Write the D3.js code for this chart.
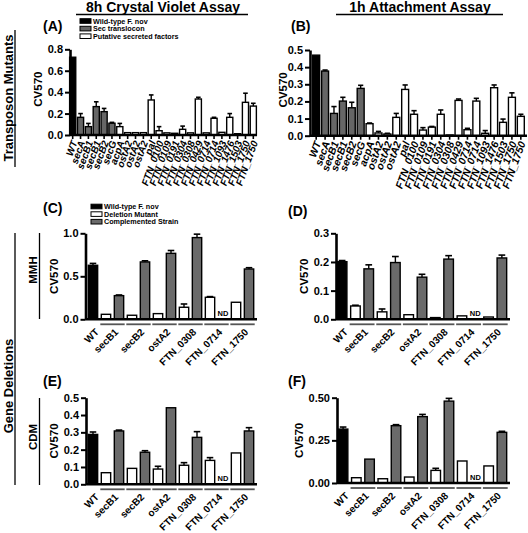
<!DOCTYPE html>
<html><head><meta charset="utf-8">
<script src="https://cdn.jsdelivr.net/npm/d3@7"></script>
<style>
body{margin:0;background:#fff;}
svg text{font-family:Arial,"Liberation Sans",Helvetica,sans-serif;font-weight:bold;fill:#000;}
</style></head><body>
<svg id="c" width="528" height="533"></svg>
<script>
// ---------- DATA ----------
const mutantLabels = ["WT","secA","secB1","secB1","secB2","secG","acpA","ostA2","ostA2","ostA2","pal",
  "FTN_0100","FTN_0109","FTN_0191","FTN_0304","FTN_0308","FTN_0429","FTN_0714","FTN_0714",
  "FTN_1093","FTN_1476","FTN_1503","FTN_1750","FTN_1750"];
const mutantClass = ["wt","sec","sec","sec","sec","sec","sf","sf","sf","sf","sf","sf","sf","sf","sf","sf","sf","sf","sf","sf","sf","sf","sf","sf"];
const mutantLegend = ["Wild-type F. nov","Sec translocon","Putative secreted factors"];

// (A) 8h crystal violet, transposon mutants
const crystalMean = [0.726,0.165,0.078,0.265,0.218,0.110,0.078,0.022,0.022,0.022,0.327,
  0.040,0.020,0.016,0.053,0.020,0.336,0.020,0.156,0.025,0.165,0.012,0.305,0.270];
const crystalSem  = [0,0.035,0.030,0.045,0.030,0.008,0.030,0,0,0,0.047,
  0.038,0,0,0.030,0,0.016,0,0.009,0,0.035,0,0.085,0.026];
// (B) 1h attachment, transposon mutants
const attachMean = [0.470,0.377,0.130,0.202,0.163,0.276,0.070,0.016,0.010,0.107,0.270,
  0.125,0.033,0.050,0.125,0.004,0.206,0.035,0.202,0.014,0.280,0.078,0.224,0.113];
const attachSem  = [0,0.006,0.040,0.022,0.032,0.018,0.004,0.009,0.004,0.023,0.026,
  0.021,0.014,0.004,0.025,0,0.008,0.008,0.016,0.016,0.016,0.019,0.026,0.012];

const deletionGroups = ["WT","secB1","secB2","ostA2","FTN_0308","FTN_0714","FTN_1750"];
const deletionLegend = ["Wild-type F. nov","Deletion Mutant","Complemented Strain"];

// (C) MMH crystal violet
const cWT = [0.628], cWTSem = [0.022];
const cDel = [0.058,0.047,0.066,0.140,0.256,0.198], cDelSem = [0,0,0,0.038,0.008,0];
const cComp = [0.275,0.667,0.767,0.950,null,0.585], cCompSem = [0.008,0.013,0.033,0.040,null,0.015];
// (D) MMH attachment
const dWT = [0.201], dWTSem = [0.004];
const dDel = [0.0465,0.026,0.016,0.006,0.012,0.008], dDelSem = [0.0025,0.010,0,0,0,0];
const dComp = [0.176,0.198,0.147,0.210,null,0.214], dCompSem = [0.014,0.021,0.010,0.012,null,0.010];
// (E) CDM crystal violet
const eWT = [0.288], eWTSem = [0.014];
const eDel = [0.067,0.092,0.088,0.110,0.138,0.181], eDelSem = [0,0,0.016,0.015,0.016,0];
const eComp = [0.308,0.185,0.442,0.271,null,0.308], eCompSem = [0.005,0.009,0,0.033,null,0.019];
// (F) CDM attachment
const fWT = [0.316], fWTSem = [0.012];
const fDel = [0.031,0.025,0.035,0.074,0.129,0.100], fDelSem = [0,0,0,0.012,0,0];
const fComp = [0.140,0.336,0.389,0.480,null,0.297], fCompSem = [0,0.006,0.013,0.016,null,0.006];

// ---------- DRAWING ----------
const svg = d3.select("#c");
const mutantFill = {wt:"#000", sec:"#666", sf:"#fff"};
const delFill = {wt:"#000", del:"#fff", comp:"#6a6a6a"};

function drawYAxis(g, y, ax, ticks, fmt) {
  const a = d3.axisLeft(y).tickValues(ticks).tickFormat(d3.format(fmt)).tickSize(5).tickSizeOuter(0).tickPadding(2);
  const ga = g.append("g").attr("transform", `translate(${ax},0)`).call(a);
  ga.select(".domain").attr("stroke", "#000").attr("stroke-width", 2.6);
  ga.selectAll(".tick line").attr("stroke", "#000").attr("stroke-width", 2);
  ga.selectAll(".tick text").style("font-size", "11px").style("font-weight", "bold").attr("fill", "#000")
    .style("font-family", "Arial, 'Liberation Sans', sans-serif");
}

function drawErr(g, data, x, y, capFrac) {
  const d2 = data.filter(d => d.v != null && d.e > 0);
  g.selectAll(null).data(d2).join("line")
    .attr("x1", d => x(d.key) + x.bandwidth()/2).attr("x2", d => x(d.key) + x.bandwidth()/2)
    .attr("y1", d => y(d.v)).attr("y2", d => y(d.v + d.e))
    .attr("stroke", "#000").attr("stroke-width", 1.4);
  g.selectAll(null).data(d2).join("line")
    .attr("x1", d => x(d.key) + x.bandwidth()*(0.5 - capFrac/2)).attr("x2", d => x(d.key) + x.bandwidth()*(0.5 + capFrac/2))
    .attr("y1", d => y(d.v + d.e)).attr("y2", d => y(d.v + d.e))
    .attr("stroke", "#000").attr("stroke-width", 1.6);
}

function drawBars(g, data, x, y) {
  g.selectAll(null).data(data.filter(d => d.v != null)).join("rect")
    .attr("x", d => x(d.key)).attr("width", x.bandwidth())
    .attr("y", d => y(d.v)).attr("height", d => Math.max(0, y(0) - y(d.v)))
    .attr("fill", d => d.fill).attr("stroke", "#000").attr("stroke-width", 1.4);
}

function cvLabel(g, xPos, yPos) {
  g.append("text").attr("transform", `translate(${xPos},${yPos}) rotate(-90)`)
    .attr("text-anchor", "middle").style("font-size", "11.5px").text("CV570");
}

function mutantPanel(cfg) {
  const g = svg.append("g");
  const keys = d3.range(mutantLabels.length);
  const x = d3.scaleBand().domain(keys).range(cfg.xr).paddingInner(0.22).paddingOuter(0.08);
  const y = d3.scaleLinear().domain(cfg.yd).range(cfg.yr);
  const data = keys.map(i => ({key: i, v: cfg.mean[i], e: cfg.sem[i], fill: mutantFill[mutantClass[i]]}));
  drawBars(g, data, x, y);
  drawErr(g, data, x, y, 0.75);
  const xa = d3.axisBottom(x).tickSize(4).tickSizeOuter(0).tickFormat("");
  const gx = g.append("g").attr("transform", `translate(0,${y(0)})`).call(xa);
  gx.select(".domain").remove();
  gx.selectAll(".tick line").attr("stroke", "#000").attr("stroke-width", 1.6);
  g.append("line").attr("x1", cfg.ax).attr("x2", cfg.xend).attr("y1", y(0)).attr("y2", y(0))
    .attr("stroke", "#000").attr("stroke-width", 2.6);
  drawYAxis(g, y, cfg.ax, cfg.ticks, cfg.fmt);
  g.selectAll(null).data(keys).join("text")
    .attr("transform", i => `translate(${x(i) + x.bandwidth()/2 + 1.5},${y(0) + 6}) rotate(-70)`)
    .attr("text-anchor", "end").attr("dy", "0.35em")
    .style("font-size", cfg.fs).style("font-style", "italic")
    .text(i => mutantLabels[i]);
  cvLabel(g, cfg.cvx, (cfg.yr[0] + cfg.yr[1]) / 2 - 3);
}

function deletionPanel(cfg) {
  const g = svg.append("g");
  const data = [{key: "WT", v: cfg.wt[0], e: cfg.wtSem[0], fill: delFill.wt}];
  deletionGroups.slice(1).forEach((gn, i) => {
    data.push({key: gn + "|del", v: cfg.del[i], e: cfg.delSem[i], fill: delFill.del});
    data.push({key: gn + "|comp", v: cfg.comp[i], e: cfg.compSem[i], fill: delFill.comp});
  });
  const x = d3.scaleBand().domain(data.map(d => d.key)).range(cfg.xr).paddingInner(0.28).paddingOuter(0.1);
  const y = d3.scaleLinear().domain(cfg.yd).range(cfg.yr);
  drawBars(g, data, x, y);
  drawErr(g, data, x, y, 0.7);
  g.append("line").attr("x1", cfg.ax).attr("x2", cfg.xr[1] + 2).attr("y1", y(0)).attr("y2", y(0))
    .attr("stroke", "#000").attr("stroke-width", 2.6);
  drawYAxis(g, y, cfg.ax, cfg.ticks, cfg.fmt);
  g.selectAll(null).data(data.filter(d => d.v == null)).join("text")
    .attr("x", d => x(d.key) + x.bandwidth()/2).attr("y", y(0) - 3)
    .attr("text-anchor", "middle").style("font-size", "7.5px").text("ND");
  const groupCenter = gn => gn === "WT" ? x("WT") + x.bandwidth()/2
    : (x(gn + "|del") + x(gn + "|comp") + x.bandwidth()) / 2;
  g.selectAll(null).data(deletionGroups.slice(1)).join("line")
    .attr("x1", gn => x(gn + "|del") - 1).attr("x2", gn => x(gn + "|comp") + x.bandwidth() + 1)
    .attr("y1", y(0) + 5).attr("y2", y(0) + 5)
    .attr("stroke", "#555").attr("stroke-width", 1.8);
  g.selectAll(null).data(deletionGroups).join("text")
    .attr("transform", gn => `translate(${groupCenter(gn) + 4},${y(0) + 11}) rotate(-45)`)
    .attr("text-anchor", "end").attr("dy", "0.35em")
    .style("font-size", "10px").text(gn => gn);
  cvLabel(g, cfg.cvx, (cfg.yr[0] + cfg.yr[1]) / 2);
}

function legend(x0, y0, labels, fills) {
  const g = svg.append("g");
  labels.forEach((l, i) => {
    g.append("rect").attr("x", x0).attr("y", y0 + i * 7.6 - 2.3).attr("width", 11).attr("height", 4.6)
      .attr("fill", fills[i]).attr("stroke", "#000").attr("stroke-width", 1);
    g.append("text").attr("x", x0 + 13).attr("y", y0 + i * 7.6 + 2.5).style("font-size", "7.2px").text(l);
  });
}

// Titles
svg.append("text").attr("x", 163).attr("y", 12).attr("text-anchor", "middle").style("font-size", "14px").text("8h Crystal Violet Assay");
svg.append("line").attr("x1", 76).attr("x2", 248).attr("y1", 14.5).attr("y2", 14.5).attr("stroke", "#000").attr("stroke-width", 1.5);
svg.append("text").attr("x", 420).attr("y", 12).attr("text-anchor", "middle").style("font-size", "14px").text("1h Attachment Assay");
svg.append("line").attr("x1", 336).attr("x2", 503).attr("y1", 14.5).attr("y2", 14.5).attr("stroke", "#000").attr("stroke-width", 1.5);

// Panel letters
[["(A)",43,31],["(B)",291,31],["(C)",43,213],["(D)",288,216],["(E)",43,386],["(F)",288,386]].forEach(p =>
  svg.append("text").attr("x", p[1]).attr("y", p[2]).style("font-size", "14px").text(p[0]));

// Side labels
function sideLabel(txt, xPos, yc, fs) {
  svg.append("text").attr("transform", `translate(${xPos},${yc}) rotate(-90)`).attr("text-anchor", "middle")
    .style("font-size", fs).text(txt);
}
sideLabel("Transposon Mutants", 12.5, 98, "13px");
svg.append("line").attr("x1", 15).attr("x2", 15).attr("y1", 30).attr("y2", 167).attr("stroke", "#000").attr("stroke-width", 1.3);
sideLabel("Gene Deletions", 12.5, 386, "13px");
svg.append("line").attr("x1", 15).attr("x2", 15).attr("y1", 233).attr("y2", 485).attr("stroke", "#000").attr("stroke-width", 1.3);
sideLabel("MMH", 37, 270, "11.5px");
svg.append("line").attr("x1", 39.5).attr("x2", 39.5).attr("y1", 233).attr("y2", 319).attr("stroke", "#000").attr("stroke-width", 1.3);
sideLabel("CDM", 37, 437, "11.5px");
svg.append("line").attr("x1", 39.5).attr("x2", 39.5).attr("y1", 398).attr("y2", 485).attr("stroke", "#000").attr("stroke-width", 1.3);

legend(80, 21, mutantLegend, [mutantFill.wt, mutantFill.sec, mutantFill.sf]);
legend(91, 206.5, deletionLegend, [delFill.wt, delFill.del, delFill.comp]);

mutantPanel({mean: crystalMean, sem: crystalSem, xr: [69, 257], ax: 70, xend: 257, yd: [0, 0.8], yr: [135, 49.3],
  ticks: [0, 0.2, 0.4, 0.6, 0.8], fmt: ".1f", fs: "10px", cvx: 42});
mutantPanel({mean: attachMean, sem: attachSem, xr: [312, 525], ax: 310, xend: 527, yd: [0, 0.5], yr: [135.7, 50],
  ticks: [0, 0.1, 0.2, 0.3, 0.4, 0.5], fmt: ".1f", fs: "10.5px", cvx: 287});

deletionPanel({wt: cWT, wtSem: cWTSem, del: cDel, delSem: cDelSem, comp: cComp, compSem: cCompSem,
  xr: [87, 255], ax: 85.5, yd: [0, 1], yr: [319.3, 233.3], ticks: [0, 0.5, 1], fmt: ".1f", cvx: 58});
deletionPanel({wt: dWT, wtSem: dWTSem, del: dDel, delSem: dDelSem, comp: dComp, compSem: dCompSem,
  xr: [336, 508], ax: 336, yd: [0, 0.3], yr: [319.3, 233.3], ticks: [0, 0.1, 0.2, 0.3], fmt: ".1f", cvx: 308});
deletionPanel({wt: eWT, wtSem: eWTSem, del: eDel, delSem: eDelSem, comp: eComp, compSem: eCompSem,
  xr: [87, 255], ax: 86, yd: [0, 0.5], yr: [484.3, 397.7], ticks: [0, 0.1, 0.2, 0.3, 0.4, 0.5], fmt: ".1f", cvx: 58});
deletionPanel({wt: fWT, wtSem: fWTSem, del: fDel, delSem: fDelSem, comp: fComp, compSem: fCompSem,
  xr: [337, 508], ax: 337, yd: [0, 0.5], yr: [483, 397.7], ticks: [0, 0.25, 0.5], fmt: ".2f", cvx: 303});
</script>
</body></html>
